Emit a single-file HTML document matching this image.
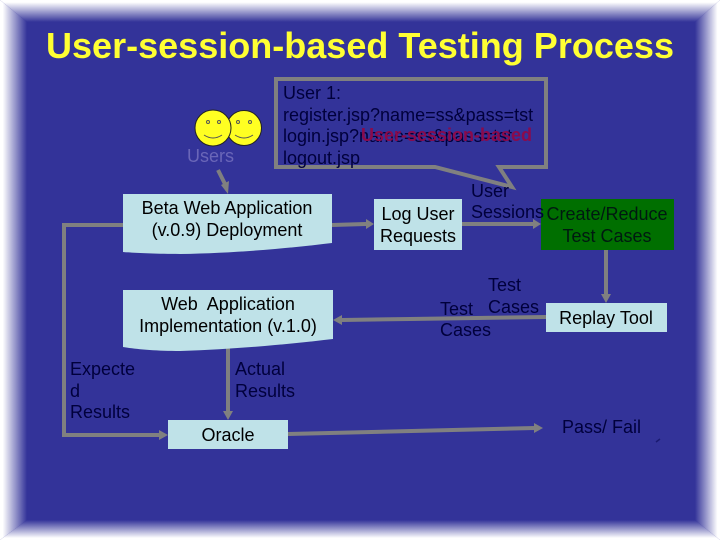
<!DOCTYPE html>
<html>
<head>
<meta charset="utf-8">
<style>
html,body{margin:0;padding:0;background:#333399;width:720px;height:540px;overflow:hidden}
svg{display:block}
text{font-family:"Liberation Sans",sans-serif;font-size:18px}
.k{fill:#000}
.n{fill:#00003c}
.g{stroke:#808080;stroke-width:4;fill:none}
.a{fill:#808080}
</style>
</head>
<body>
<svg width="720" height="540" viewBox="0 0 720 540" xmlns="http://www.w3.org/2000/svg">
<defs>
<linearGradient id="gl" x1="0" y1="0" x2="1" y2="0"><stop offset="0.1" stop-color="#fff"/><stop offset="1" stop-color="#333399"/></linearGradient>
<linearGradient id="gr" x1="1" y1="0" x2="0" y2="0"><stop offset="0.1" stop-color="#fff"/><stop offset="1" stop-color="#333399"/></linearGradient>
<linearGradient id="gt" x1="0" y1="0" x2="0" y2="1"><stop offset="0.1" stop-color="#fff"/><stop offset="1" stop-color="#333399"/></linearGradient>
<linearGradient id="gb" x1="0" y1="1" x2="0" y2="0"><stop offset="0.1" stop-color="#fff"/><stop offset="1" stop-color="#333399"/></linearGradient>
</defs>
<rect width="720" height="540" fill="#333399"/>
<polygon points="0,0 720,0 695,22 27,22" fill="url(#gt)"/>
<polygon points="0,540 720,540 695,520 27,520" fill="url(#gb)"/>
<polygon points="0,0 27,22 27,520 0,540" fill="url(#gl)"/>
<polygon points="720,0 695,22 695,520 720,540" fill="url(#gr)"/>

<text x="46" y="58" textLength="628" lengthAdjust="spacingAndGlyphs" style="font-size:36px;font-weight:bold" fill="#ffff33">User-session-based Testing Process</text>

<!-- users -->
<g stroke="#222" stroke-width="1">
<circle cx="244" cy="128" r="17.5" fill="#ffff22"/>
<circle cx="213" cy="128" r="18" fill="#ffff22"/>
</g>
<g fill="none" stroke="#555" stroke-width="1">
<circle cx="208" cy="122" r="1.5"/><circle cx="219" cy="122" r="1.5"/>
<circle cx="238" cy="122" r="1.5"/><circle cx="250" cy="122" r="1.5"/>
<path d="M204 135 Q213 141 222 135"/><path d="M235 135 Q244 141 253 135"/>
</g>
<text x="187" y="162" fill="#6a66b8">Users</text>

<!-- bubble -->
<path d="M276 79 H546 V167 H499 L512 187 L435 167 H276 Z" fill="#333399" stroke="#808080" stroke-width="4"/>
<text x="283" y="99" fill="#00003c">User 1:</text>
<text class="n" x="283" y="121">register.jsp?name=ss&amp;pass=tst</text>
<text class="n" x="283" y="142" textLength="229" lengthAdjust="spacingAndGlyphs">login.jsp?name=ss&amp;pass=tst</text>
<text x="361" y="141" textLength="171" lengthAdjust="spacingAndGlyphs" fill="#8a0a4c" style="font-weight:bold">User-session-based</text>
<text class="n" x="283" y="164">logout.jsp</text>

<!-- connectors -->
<path class="g" d="M218 170 L226 186"/>
<polygon class="a" points="221,185 229,181 228,194"/>
<path class="g" d="M332 225 L366 224"/>
<polygon class="a" points="366,219 374,224 366,229"/>
<path class="g" d="M462 224 L534 224"/>
<polygon class="a" points="533,219 541,224 533,229"/>
<path class="g" d="M606 250 L606 295"/>
<polygon class="a" points="601,294 611,294 606,303"/>
<path class="g" d="M546 317 L410 319 L342 320"/>
<polygon class="a" points="342,315 333,320 342,325"/>
<path class="g" d="M228 348 L228 412"/>
<polygon class="a" points="223,411 233,411 228,420"/>
<path class="g" d="M123 225 H64 V435 H160"/>
<polygon class="a" points="159,430 168,435 159,440"/>
<path class="g" d="M288 434 L535 428"/>
<polygon class="a" points="534,423 543,428 534,433"/>

<!-- boxes -->
<path d="M123 194 H332 V243 C290 248 240 253 180 254 C155 254 135 253 123 252 Z" fill="#bfe2e8"/>
<text class="k" x="227" y="214" text-anchor="middle">Beta Web Application</text>
<text class="k" x="227" y="236" text-anchor="middle">(v.0.9) Deployment</text>

<path d="M123 290 H333 V339 C290 344 240 349 180 351 C155 351 135 349 123 347 Z" fill="#bfe2e8"/>
<text class="k" x="228" y="310" text-anchor="middle" xml:space="preserve">Web  Application</text>
<text class="k" x="228" y="332" text-anchor="middle">Implementation (v.1.0)</text>

<rect x="168" y="420" width="120" height="29" fill="#bfe2e8"/>
<text class="k" x="228" y="441" text-anchor="middle">Oracle</text>

<rect x="374" y="199" width="88" height="51" fill="#bfe2e8"/>
<text class="k" x="418" y="220" text-anchor="middle">Log User</text>
<text class="k" x="418" y="242" text-anchor="middle">Requests</text>

<rect x="541" y="199" width="133" height="51" fill="#006f00"/>
<text x="607" y="220" text-anchor="middle" fill="#001a10">Create/Reduce</text>
<text x="607" y="242" text-anchor="middle" fill="#001a10">Test Cases</text>

<rect x="546" y="303" width="121" height="29" fill="#bfe2e8"/>
<text class="k" x="606" y="324" text-anchor="middle">Replay Tool</text>

<!-- labels -->
<text class="n" x="471" y="197">User</text>
<text class="n" x="471" y="218">Sessions</text>
<text class="n" x="488" y="291">Test</text>
<text class="n" x="488" y="313">Cases</text>
<text class="n" x="440" y="315">Test</text>
<text class="n" x="440" y="336">Cases</text>
<text class="n" x="70" y="375">Expecte</text>
<text class="n" x="70" y="397">d</text>
<text class="n" x="70" y="418">Results</text>
<text class="n" x="235" y="375">Actual</text>
<text class="n" x="235" y="397">Results</text>
<text class="n" x="562" y="433">Pass/ Fail</text>
<path d="M656 442 L660 439" stroke="#1a1a70" stroke-width="1.5"/>
</svg>
</body>
</html>
